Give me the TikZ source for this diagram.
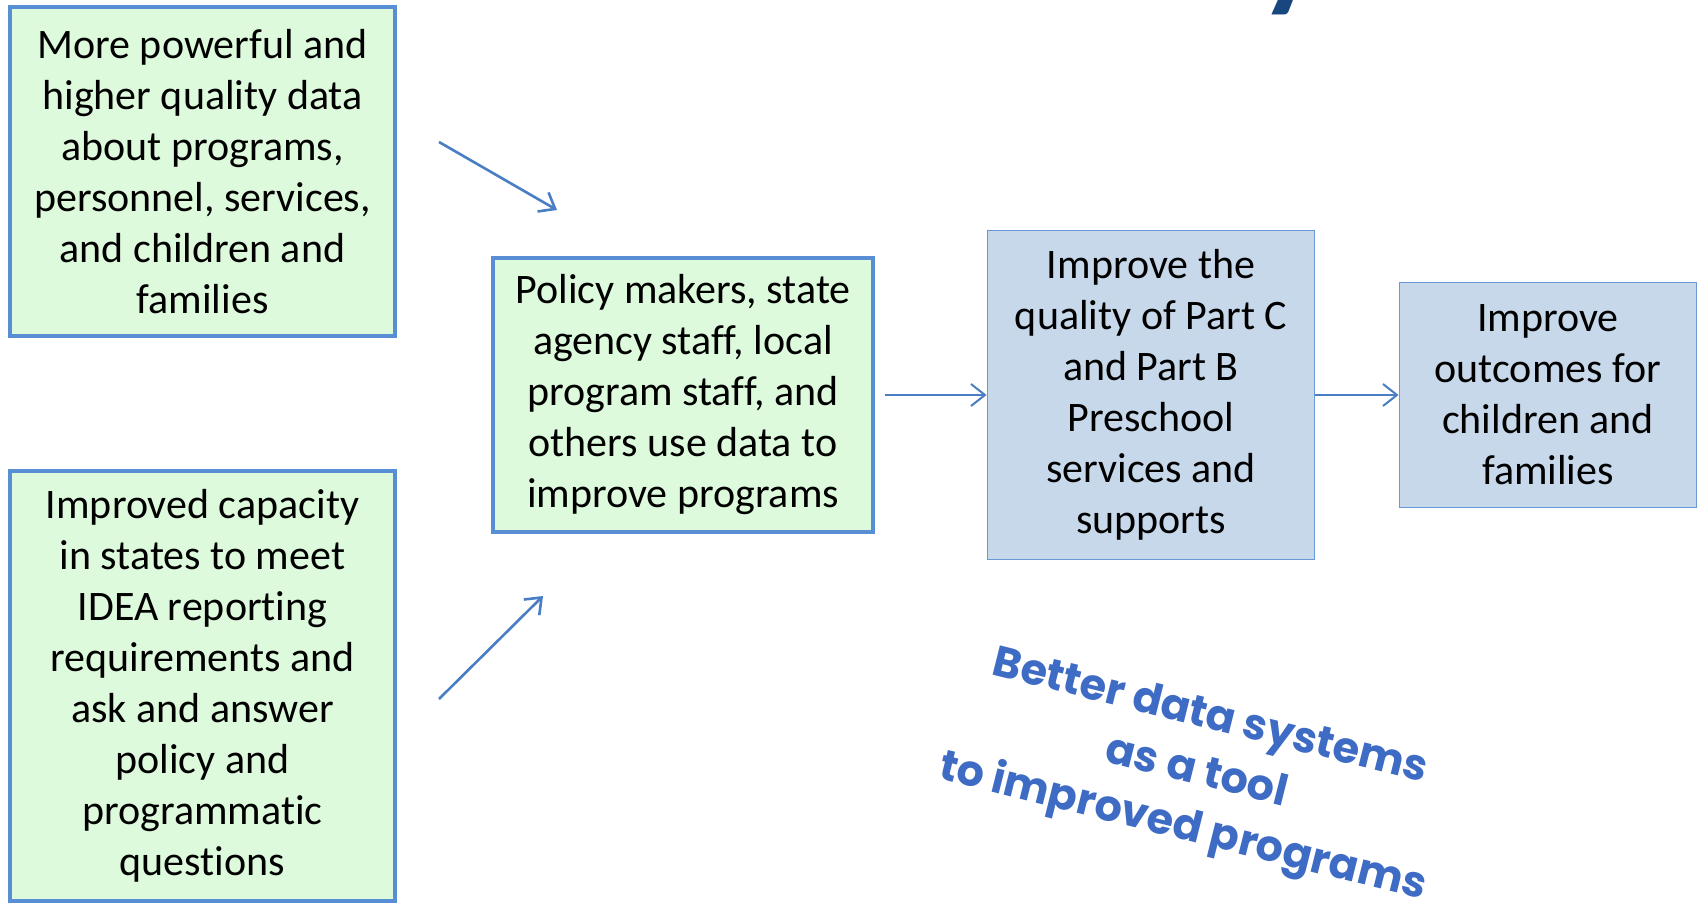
\documentclass[tikz,border=0pt]{standalone}
\usepackage{fontspec}
\setmainfont{Carlito}[Ligatures=NoCommon]
\newfontfamily\wafont{Poppins}
\usetikzlibrary{arrows.meta}
\definecolor{gfill}{RGB}{222,250,220}
\definecolor{gline}{RGB}{88,142,212}
\definecolor{bfill}{RGB}{199,216,234}
\definecolor{bline}{RGB}{104,152,216}
\definecolor{arr}{RGB}{74,126,196}
\definecolor{watext}{RGB}{62,108,196}
\definecolor{ttl}{RGB}{24,70,126}
\begin{document}
\begin{tikzpicture}[x=1pt,y=-1pt,
  txt/.style={align=center, font=\fontsize{42}{51}\selectfont, inner sep=0pt, text=black},
  gbox/.style={txt, draw=gline, fill=gfill, line width=4pt},
  bbox/.style={txt, draw=bline, fill=bfill, line width=1.8pt},
  conn/.style={draw=arr, line width=2pt, -{Straight Barb[length=14pt,width=22pt]}},
  wa/.style={align=center, inner sep=0pt, text=watext, font=\wafont\bfseries\fontsize{43}{57}\selectfont}
]
\useasboundingbox (0,0) rectangle (1702,909);
\fill[white] (0,0) rectangle (1702,909);
\begin{scope}
\clip (0,0) rectangle (1702,909);
\node[anchor=base, inner sep=0pt, text=ttl, font=\bfseries\fontsize{130}{130}\selectfont] (ttly) at (1290,-5) {y};
\end{scope}
\node[gbox, minimum width=385pt, minimum height=329pt] (b1) at (202.5,171.5)
  {More powerful and\\higher quality data\\about programs,\\personnel, services,\\and children and\\families};
\node[gbox, minimum width=385pt, minimum height=430pt] (b2) at (202.5,686)
  {Improved capacity\\in states to meet\\IDEA reporting\\requirements and\\ask and answer\\policy and\\programmatic\\questions};
\node[gbox, minimum width=380pt, minimum height=274pt] (b3) at (683,395)
  {Policy makers, state\\agency staff, local\\program staff, and\\others use data to\\improve programs};
\node[bbox, minimum width=327pt, minimum height=329pt] (b4) at (1151,395)
  {Improve the\\quality of Part C\\and Part B\\Preschool\\services and\\supports};
\node[bbox, minimum width=297pt, minimum height=225pt] (b5) at (1548,395)
  {Improve\\outcomes for\\children and\\families};
\coordinate (a1s) at (439,142);
\coordinate (a1e) at (557,210);
\coordinate (a2s) at (439,699);
\coordinate (a2e) at (543,596);
\draw[conn, line width=2.6pt] (a1s) -- (a1e);
\draw[conn, line width=2.6pt] (a2s) -- (a2e);
\draw[conn, shorten <=10pt] (b3) -- (b4);
\draw[conn] (b4) -- (b5);
\node[wa, rotate=-14] (wa) at (1196,774) {Better data systems\\as a tool\\to improved programs};
\end{tikzpicture}
\end{document}
